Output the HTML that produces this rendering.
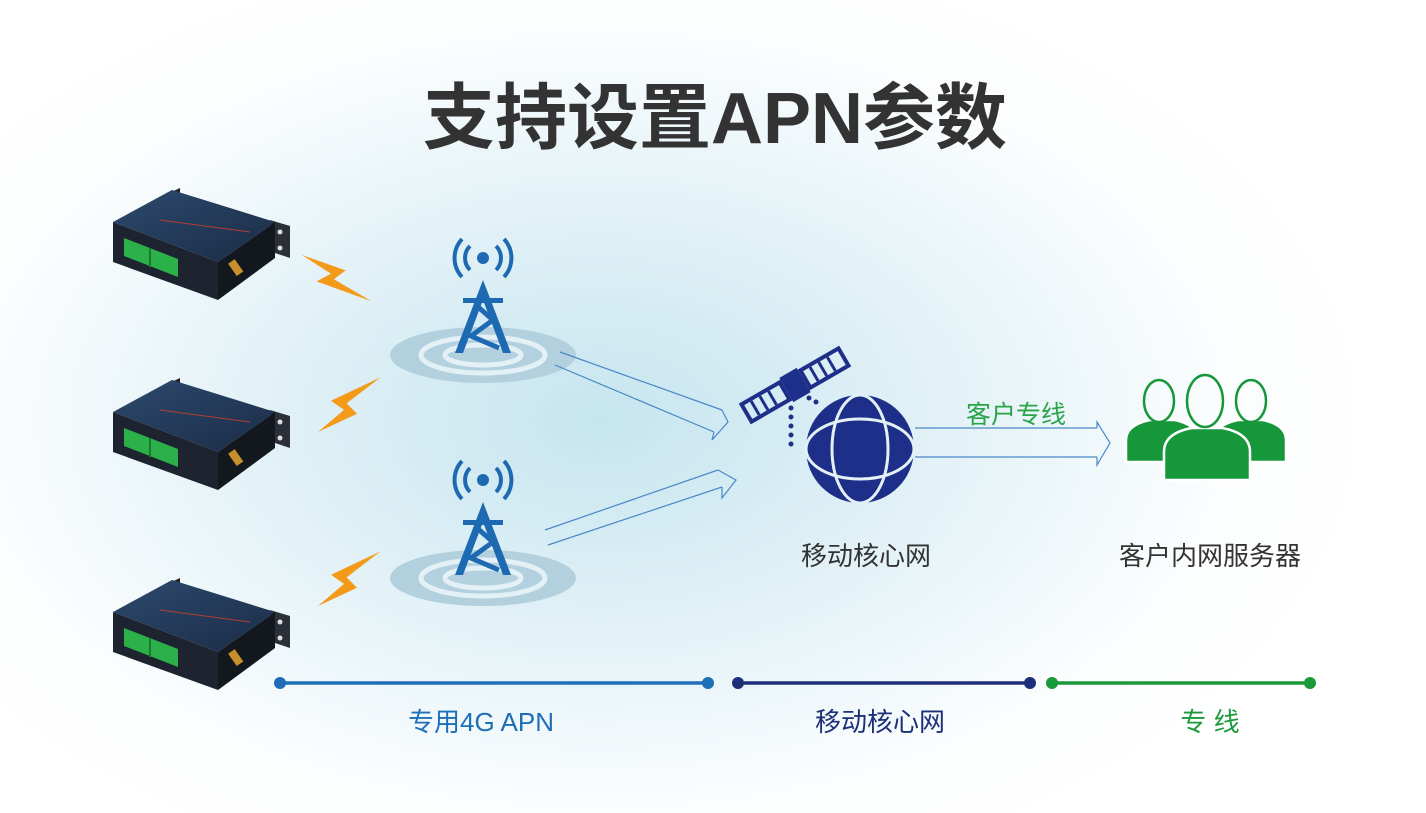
<!DOCTYPE html>
<html><head><meta charset="utf-8"><style>
html,body{margin:0;padding:0;width:1426px;height:813px;overflow:hidden;background:#fff}
svg{display:block}
text{font-family:"Liberation Sans","Noto Sans CJK SC",sans-serif}
</style></head><body>
<svg width="1426" height="813" viewBox="0 0 1426 813" xmlns="http://www.w3.org/2000/svg">
<defs>
<radialGradient id="bg" cx="600" cy="420" r="780" gradientUnits="userSpaceOnUse" gradientTransform="translate(600 420) scale(1 0.62) translate(-600 -420)">
<stop offset="0" stop-color="#c6e5ef"/><stop offset="0.45" stop-color="#e3f2f7"/><stop offset="0.8" stop-color="#fbfdfe"/><stop offset="1" stop-color="#ffffff"/>
</radialGradient>
<linearGradient id="top" x1="0" y1="0" x2="1" y2="1"><stop offset="0" stop-color="#2d4a6e"/><stop offset="1" stop-color="#1a2c45"/></linearGradient>
<g id="dev">
<polygon points="165,195 180,188 180,200" fill="#222"/>
<polygon points="270,220 290,226 290,258 272,252" fill="#2a2f38"/>
<circle cx="280" cy="232" r="2.5" fill="#ddd"/><circle cx="280" cy="248" r="2.5" fill="#ddd"/>
<polygon points="113,222 172,190 275,222 218,262" fill="url(#top)"/>
<polygon points="113,222 218,262 218,300 113,262" fill="#1d2430"/>
<polygon points="218,262 275,222 275,258 218,300" fill="#13181f"/>
<polygon points="124,238 178,259 178,277 124,256" fill="#2bb04a"/>
<line x1="150" y1="248" x2="150" y2="267" stroke="#1a7a30" stroke-width="2"/>
<rect x="232" y="260" width="8" height="15" fill="#c8902a" transform="rotate(-35 236 268)"/>
<line x1="160" y1="220" x2="250" y2="232" stroke="#b04030" stroke-width="1"/>
</g>
<polygon id="bolt" points="0,0 30,14 22,22 48,42 10,24 20,17" fill="#f39a18"/>
<g id="tower" fill="#1e6ab2">
<circle cx="0" cy="0" r="6"/>
<path d="M-13,-12 A17,17 0 0 0 -13,12 M13,-12 A17,17 0 0 1 13,12 M-21,-19 A28,28 0 0 0 -21,19 M21,-19 A28,28 0 0 1 21,19" fill="none" stroke="#1e6ab2" stroke-width="4"/>
<polygon points="0,22 -28,95 -20,95 0,42 20,95 28,95"/>
<rect x="-20" y="40" width="40" height="5"/>
<path d="M-6,48 L10,62 L-12,78 L16,90" fill="none" stroke="#1e6ab2" stroke-width="5"/>
</g>
<g id="ripple">
<ellipse cx="0" cy="0" rx="93" ry="28" fill="#b3d0df"/>
<ellipse cx="0" cy="0" rx="62" ry="18" fill="none" stroke="#e3f0f5" stroke-width="5"/>
<ellipse cx="0" cy="0" rx="38" ry="10" fill="none" stroke="#e3f0f5" stroke-width="5"/>
</g>
</defs>
<rect width="1426" height="813" fill="url(#bg)"/>
<text x="715" y="143" text-anchor="middle" font-size="72" font-weight="bold" fill="#333">支持设置APN参数</text>

<use href="#dev"/><use href="#dev" y="190"/><use href="#dev" y="390"/>
<use href="#bolt" transform="translate(302,255) scale(1.45,1.1)"/>
<use href="#bolt" transform="translate(318,432) scale(1.3,-1.3)"/>
<use href="#bolt" transform="translate(318,606) scale(1.3,-1.3)"/>

<use href="#ripple" x="483" y="355"/><use href="#tower" x="483" y="258"/>
<use href="#ripple" x="483" y="578"/><use href="#tower" x="483" y="480"/>

<g fill="none" stroke="#4a88c8" stroke-width="1.2">
<path d="M560,352 L722,410 M555,365 L714,432 M722,410 L728,422 L712,440 L714,432"/>
<path d="M548,545 L722,487 M545,530 L718,470 M718,470 L736,480 L722,498 L722,487"/>
<path d="M915,428 L1097,428 M915,457 L1097,457 M1097,428 L1097,422 L1110,443 L1097,465 L1097,457"/>
</g>

<g transform="translate(795,385) rotate(-30)" fill="#1e2f8a">
<rect x="-10" y="-14" width="20" height="28"/>
<rect x="-56" y="-10" width="44" height="20" fill="none" stroke="#1e2f8a" stroke-width="4"/>
<rect x="12" y="-10" width="44" height="20" fill="none" stroke="#1e2f8a" stroke-width="4"/>
<path d="M-46,-8V8M-36,-8V8M-26,-8V8M22,-8V8M32,-8V8M42,-8V8" stroke="#1e2f8a" stroke-width="3"/>
</g>
<g fill="#1e2f8a"><circle cx="791" cy="408" r="2.5"/><circle cx="791" cy="417" r="2.5"/><circle cx="791" cy="426" r="2.5"/><circle cx="791" cy="435" r="2.5"/><circle cx="791" cy="444" r="2.5"/><circle cx="809" cy="398" r="2.5"/><circle cx="816" cy="402" r="2.5"/></g>
<circle cx="860" cy="449" r="54" fill="#1e2f8a"/>
<g fill="none" stroke="#e3f0f5" stroke-width="3">
<ellipse cx="860" cy="449" rx="28" ry="54"/><ellipse cx="860" cy="449" rx="54" ry="30"/>
</g>
<text x="1016" y="423" text-anchor="middle" font-size="25" fill="#2aa34a">客户专线</text>

<g fill="#16973a" stroke="#fff" stroke-width="2.5">
<path d="M1126,462 V440 Q1126,425 1150,420 L1175,420 Q1198,425 1198,440 V462 Z"/>
<path d="M1214,462 V440 Q1214,425 1238,420 L1263,420 Q1286,425 1286,440 V462 Z"/>
<path d="M1164,480 V452 Q1164,433 1192,428 L1222,428 Q1250,433 1250,452 V480 Z"/>
</g>
<g fill="none" stroke="#16973a" stroke-width="2.5">
<ellipse cx="1159" cy="401" rx="15" ry="21"/>
<ellipse cx="1251" cy="401" rx="15" ry="21"/>
<ellipse cx="1205" cy="401" rx="18" ry="26"/>
</g>

<text x="866" y="565" text-anchor="middle" font-size="26" fill="#333">移动核心网</text>
<text x="1210" y="565" text-anchor="middle" font-size="26" fill="#333">客户内网服务器</text>

<g stroke-width="3.5">
<line x1="280" y1="683" x2="708" y2="683" stroke="#1e6fb8"/>
<line x1="738" y1="683" x2="1030" y2="683" stroke="#1e2f7a"/>
<line x1="1052" y1="683" x2="1310" y2="683" stroke="#1a9a3a"/>
</g>
<circle cx="280" cy="683" r="6" fill="#1e6fb8"/><circle cx="708" cy="683" r="6" fill="#1e6fb8"/>
<circle cx="738" cy="683" r="6" fill="#1e2f7a"/><circle cx="1030" cy="683" r="6" fill="#1e2f7a"/>
<circle cx="1052" cy="683" r="6" fill="#1a9a3a"/><circle cx="1310" cy="683" r="6" fill="#1a9a3a"/>
<text x="481" y="731" text-anchor="middle" font-size="26" fill="#1e6fb8">专用4G APN</text>
<text x="880" y="731" text-anchor="middle" font-size="26" fill="#1e2f7a">移动核心网</text>
<text x="1210" y="731" text-anchor="middle" font-size="26" fill="#1a9a3a">专 线</text>
</svg>
</body></html>
